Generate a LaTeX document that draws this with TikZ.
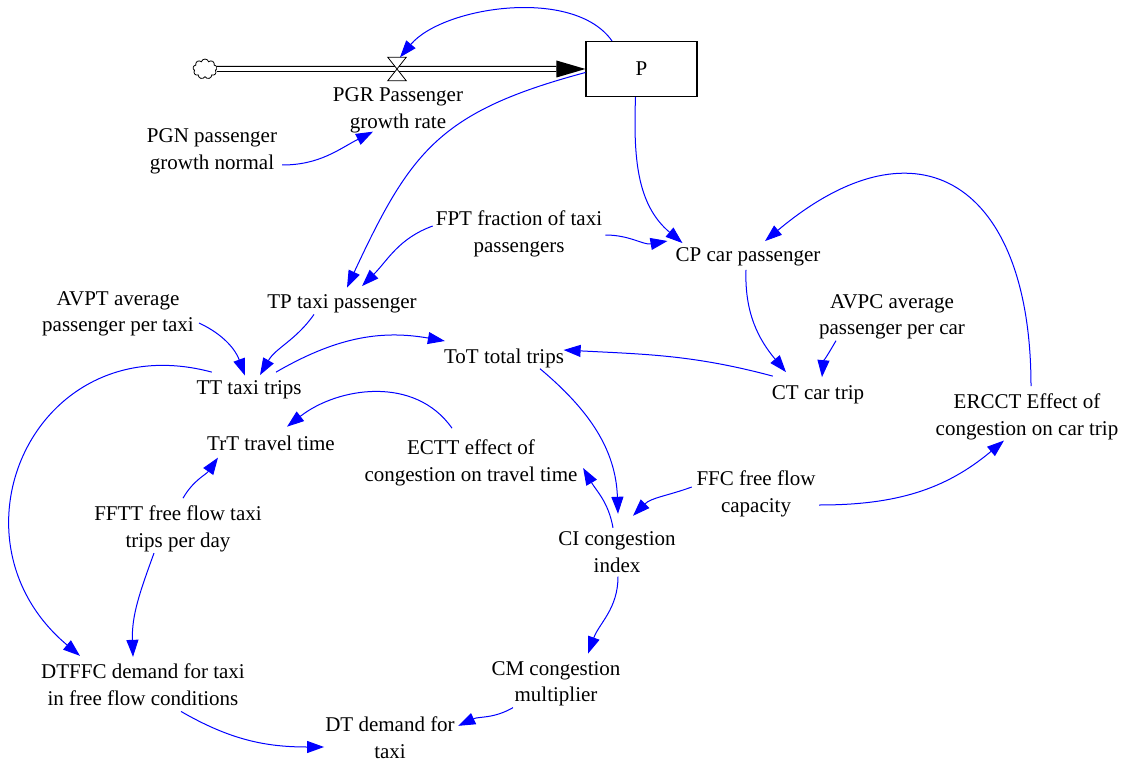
\documentclass[tikz,border=0pt]{standalone}
\usepackage{fontspec}
\setmainfont{Liberation Serif}
\usetikzlibrary{arrows.meta,shapes.symbols}
\definecolor{vblue}{RGB}{0,0,255}
\begin{document}
\begin{tikzpicture}[x=1pt,y=1pt,
  lbl/.style={align=center, inner sep=1pt, font=\fontsize{21}{26.5}\selectfont},
  link/.style={draw=vblue, line width=1pt, -{Triangle[length=17pt,width=12pt]}}]
\useasboundingbox (0,0) rectangle (1124,-762);

% stock, cloud, valve
\node[draw, line width=1.1pt, minimum width=111pt, minimum height=55pt, inner sep=0pt,
      font=\fontsize{21}{26.5}\selectfont] (p) at (641.5,-69) {P};
\node[cloud, cloud puffs=9, aspect=1.2, draw, line width=0.8pt, minimum width=24pt,
      minimum height=20pt, inner sep=0pt] (cloud) at (205,-69) {};
\node[minimum width=18pt, minimum height=23pt, inner sep=0pt] (valve) at (397,-69) {};

% labels
\node[lbl] (pgr)   at (398,-110.5) {PGR Passenger\\growth rate};
\node[lbl] (pgn)   at (212,-151.5) {PGN passenger\\growth normal};
\node[lbl] (fpt)   at (519,-234)   {FPT fraction of taxi\\passengers};
\node[lbl] (cp)    at (748,-257)   {CP car passenger};
\node[lbl] (avpt)  at (118,-314)   {AVPT average\\passenger per taxi};
\node[lbl] (tp)    at (342,-304)   {TP taxi passenger};
\node[lbl] (avpc)  at (892,-317)   {AVPC average\\passenger per car};
\node[lbl] (tot)   at (504,-358)   {ToT total trips};
\node[lbl] (tt)    at (249,-390)   {TT taxi trips};
\node[lbl] (ct)    at (818,-395)   {CT car trip};
\node[lbl] (ercct) at (1027,-417)  {ERCCT Effect of\\congestion on car trip};
\node[lbl] (trt)   at (271,-443)   {TrT travel time};
\node[lbl] (ectt)  at (471,-463)   {ECTT effect of\\congestion on travel time};
\node[lbl] (ffc)   at (756,-494)   {FFC free flow\\capacity};
\node[lbl] (fftt)  at (178,-529)   {FFTT free flow taxi\\trips per day};
\node[lbl] (ci)    at (617,-552)   {CI congestion\\index};
\node[lbl] (cm)    at (556,-684)   {CM congestion\\multiplier};
\node[lbl] (dtffc) at (143,-684.5) {DTFFC demand for taxi\\in free flow conditions};
\node[lbl] (dt)    at (390,-737.5) {DT demand for\\taxi};

% flow pipe
\draw[line width=1.1pt, double=white, double distance=3.8pt] (cloud.east) -- ([xshift=-29pt]p.west);
\fill (p.west) -- ([shift={(-29pt,8.5pt)}]p.west) -- ([shift={(-29pt,-8.5pt)}]p.west) -- cycle;
\draw[line width=0.8pt, fill=white] (valve.north west) -- (valve.north east)
   -- (valve.south west) -- (valve.south east) -- cycle;

% links
\draw[link] ([xshift=-29.5pt]p.north) to[out=125,in=50,looseness=0.8] ([xshift=3pt]valve.north);
\draw[link] ([shift={(4pt,-13.5pt)}]pgn.east) to[out=0,in=207] ([shift={(-25pt,2.5pt)}]pgr.south);
\draw[link] ([yshift=-3.5pt]p.west) to[out=195,in=65,looseness=1.2] ([shift={(5pt,6pt)}]tp.north);
\draw[link] ([xshift=-6pt]p.south) to[out=268,in=140] ([shift={(8pt,3.5pt)}]cp.north west);
\draw[link] ([shift={(-2pt,8pt)}]fpt.west) to[out=200,in=45] ([shift={(20pt,7.5pt)}]tp.north);
\draw[link] ([shift={(2pt,-1pt)}]fpt.east) to[out=0,in=190] ([shift={(-7pt,16pt)}]cp.west);
\draw[link] ([shift={(4pt,6.7pt)}]ercct.north) to[out=90,in=40,looseness=1.7] ([shift={(17pt,5.5pt)}]cp.north);
\draw[link] ([shift={(-2pt,-2.5pt)}]cp.south) to[out=268,in=130] ([shift={(-32pt,12.5pt)}]ct.north);
\draw[link] ([xshift=-56pt]avpc.south) to[out=240,in=85] ([shift={(4pt,7.5pt)}]ct.north);
\draw[link] ([shift={(4pt,-9pt)}]avpt.east) to[out=-25,in=110] ([shift={(-4pt,4pt)}]tt.north);
\draw[link] ([xshift=-28pt]tp.south) to[out=235,in=60] ([shift={(11pt,4.5pt)}]tt.north);
\draw[link] ([shift={(27pt,7.5pt)}]tt.north) to[out=30,in=170] ([shift={(2pt,17pt)}]tot.west);
\draw[link] ([shift={(2pt,8.5pt)}]ct.north west) to[out=165,in=-3] ([shift={(-1.5pt,8pt)}]tot.east);
\draw[link] ([xshift=36pt]tot.south) to[out=-40,in=92] ([shift={(1pt,16.7pt)}]ci.north);
\draw[link] ([shift={(-4pt,2.7pt)}]ci.north) to[out=100,in=-60] ([shift={(4.5pt,-5pt)}]ectt.east);
\draw[link] ([shift={(-3.5pt,7pt)}]ffc.west) to[out=200,in=45] ([shift={(16pt,14.7pt)}]ci.north);
\draw[link] ([shift={(2.5pt,-11pt)}]ffc.east) to[out=0,in=220] ([shift={(-23pt,0.6pt)}]ercct.south);
\draw[link] ([shift={(-19pt,10.7pt)}]ectt.north) to[out=125,in=38] ([shift={(16pt,7.7pt)}]trt.north);
\draw[link] ([shift={(5pt,6.7pt)}]fftt.north) to[out=60,in=235] ([shift={(-53pt,-6pt)}]trt.south);
\draw[link] ([shift={(16.5pt,7.5pt)}]tt.north west) to[out=165,in=140,looseness=1.5] ([shift={(-63pt,6.7pt)}]dtffc.north);
\draw[link] ([xshift=-24pt]fftt.south) to[out=250,in=92] ([shift={(-10pt,5.7pt)}]dtffc.north);
\draw[link] ([shift={(1pt,-3pt)}]ci.south) to[out=-90,in=70] ([shift={(32pt,6.7pt)}]cm.north);
\draw[link] ([xshift=-43pt]cm.south) to[out=210,in=25] ([shift={(2.3pt,-10.3pt)}]dt.north east);
\draw[link] ([shift={(38pt,-5pt)}]dtffc.south) to[out=-30,in=180] ([yshift=-9.5pt]dt.west);
\end{tikzpicture}
\end{document}
